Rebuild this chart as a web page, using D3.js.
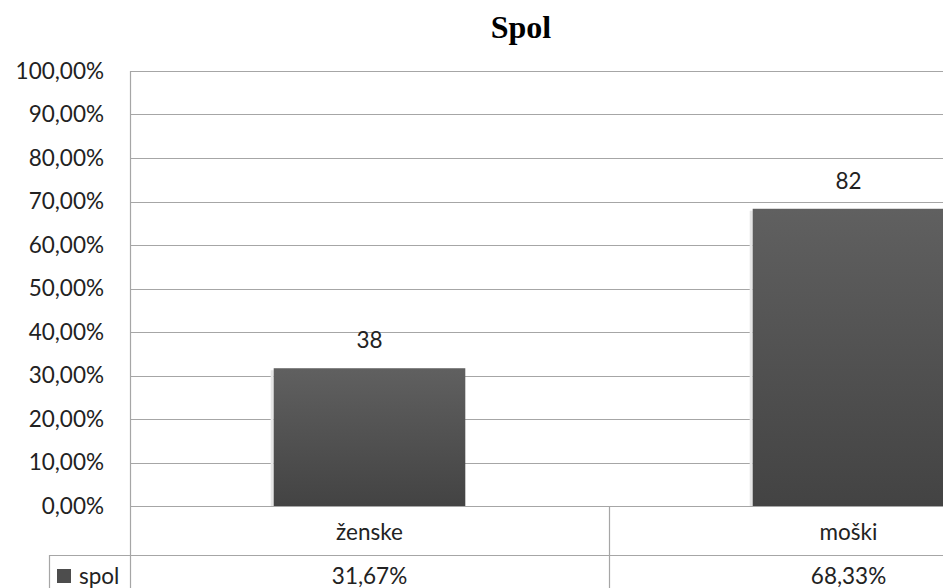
<!DOCTYPE html>
<html><head><meta charset="utf-8">
<script src="https://cdn.jsdelivr.net/npm/d3@7"></script>
<style>
html,body{margin:0;padding:0;background:#fff;overflow:hidden}
svg{display:block}
text{font-family:Lato,"Open Sans",sans-serif;fill:#222}
</style></head>
<body>
<svg id="c" width="943" height="588"></svg>
<script>
const title = "Spol";
const seriesName = "spol";
const categories = ["ženske", "moški"];
const counts = [38, 82];
const shares = [0.3167, 0.6833];
const tickValues = [0, 0.1, 0.2, 0.3, 0.4, 0.5, 0.6, 0.7, 0.8, 0.9, 1.0];

(function () {
const W = 943, H = 588;
const plotLeft = 130, plotTop = 71, plotBottom = 506, colW = 479;
const rowSep = 555, tableLeft = 49;
const grid = "#a6a6a6";
const fs = "22.5px";

const loc = d3.formatLocale({decimal: ",", thousands: ".", grouping: [3], currency: ["", "€"]});
const pct = loc.format(".2%");

const svg = d3.select("#c");
const defs = svg.append("defs");
const grad = defs.append("linearGradient").attr("id", "g").attr("x1", 0).attr("y1", 0).attr("x2", 0).attr("y2", 1);
grad.append("stop").attr("offset", "0%").attr("stop-color", "#606060");
grad.append("stop").attr("offset", "100%").attr("stop-color", "#434343");

const y = d3.scaleLinear().domain([0, 1]).range([plotBottom, plotTop]);
const xCol = d3.scaleBand().domain(categories).range([plotLeft, plotLeft + colW * categories.length]).padding(0);
const xBar = d3.scaleBand().domain(categories).range([plotLeft, plotLeft + colW * categories.length]).paddingInner(0.6).paddingOuter(0.3);

// title
svg.append("text").attr("x", 521).attr("y", 38).attr("text-anchor", "middle")
  .style("font-family", "'Liberation Serif','Times New Roman',serif").style("font-weight", "bold")
  .style("font-size", "32px").style("fill", "#000").text(title);

// gridlines
svg.append("g").selectAll("line").data(tickValues).join("line")
  .attr("x1", plotLeft).attr("x2", W).attr("y1", d => Math.round(y(d)) + 0.5).attr("y2", d => Math.round(y(d)) + 0.5)
  .attr("stroke", grid).attr("stroke-width", 1.2);

// y labels
svg.append("g").selectAll("text").data(tickValues).join("text")
  .attr("x", 104).attr("y", d => y(d)).attr("dy", "0.35em").attr("text-anchor", "end")
  .style("font-size", fs).text(d => pct(d));

// bars with subtle left shadow
const bars = svg.append("g");
bars.selectAll("rect.sh").data(categories).join("rect").attr("class", "sh")
  .attr("x", d => xBar(d) - 3).attr("width", 3)
  .attr("y", (d, i) => y(shares[i]) + 2).attr("height", (d, i) => plotBottom - y(shares[i]) - 2)
  .attr("fill", "#e6e6e6");
bars.selectAll("rect.b").data(categories).join("rect").attr("class", "b")
  .attr("x", d => xBar(d)).attr("width", xBar.bandwidth())
  .attr("y", (d, i) => y(shares[i])).attr("height", (d, i) => plotBottom - y(shares[i]))
  .attr("fill", "url(#g)");

// data labels
svg.append("g").selectAll("text").data(categories).join("text")
  .attr("x", d => xBar(d) + xBar.bandwidth() / 2).attr("y", (d, i) => y(shares[i]) - 20)
  .attr("text-anchor", "middle").style("font-size", fs).text((d, i) => counts[i]);

// axes / table lines
const lines = svg.append("g").attr("stroke", grid).attr("stroke-width", 1.2);
lines.append("line").attr("x1", plotLeft + 0.5).attr("x2", plotLeft + 0.5).attr("y1", plotTop).attr("y2", H);
lines.append("line").attr("x1", tableLeft).attr("x2", W).attr("y1", rowSep + 0.5).attr("y2", rowSep + 0.5);
lines.append("line").attr("x1", tableLeft + 0.5).attr("x2", tableLeft + 0.5).attr("y1", rowSep).attr("y2", H);
lines.selectAll("line.div").data(categories.slice(1)).join("line").attr("class", "div")
  .attr("x1", d => xCol(d) + 0.5).attr("x2", d => xCol(d) + 0.5).attr("y1", plotBottom).attr("y2", H);

// category row
svg.append("g").selectAll("text").data(categories).join("text")
  .attr("x", d => xCol(d) + colW / 2).attr("y", 540).attr("text-anchor", "middle")
  .style("font-size", fs).text(d => d);

// value row
svg.append("g").selectAll("text").data(categories).join("text")
  .attr("x", d => xCol(d) + colW / 2).attr("y", 584).attr("text-anchor", "middle")
  .style("font-size", fs).text((d, i) => pct(shares[i]));

// legend key
svg.append("rect").attr("x", 57).attr("y", 569).attr("width", 14).attr("height", 14).attr("fill", "#4d4d4d");
svg.append("text").attr("x", 79).attr("y", 584).style("font-size", fs).text(seriesName);
})();
</script>
</body></html>
